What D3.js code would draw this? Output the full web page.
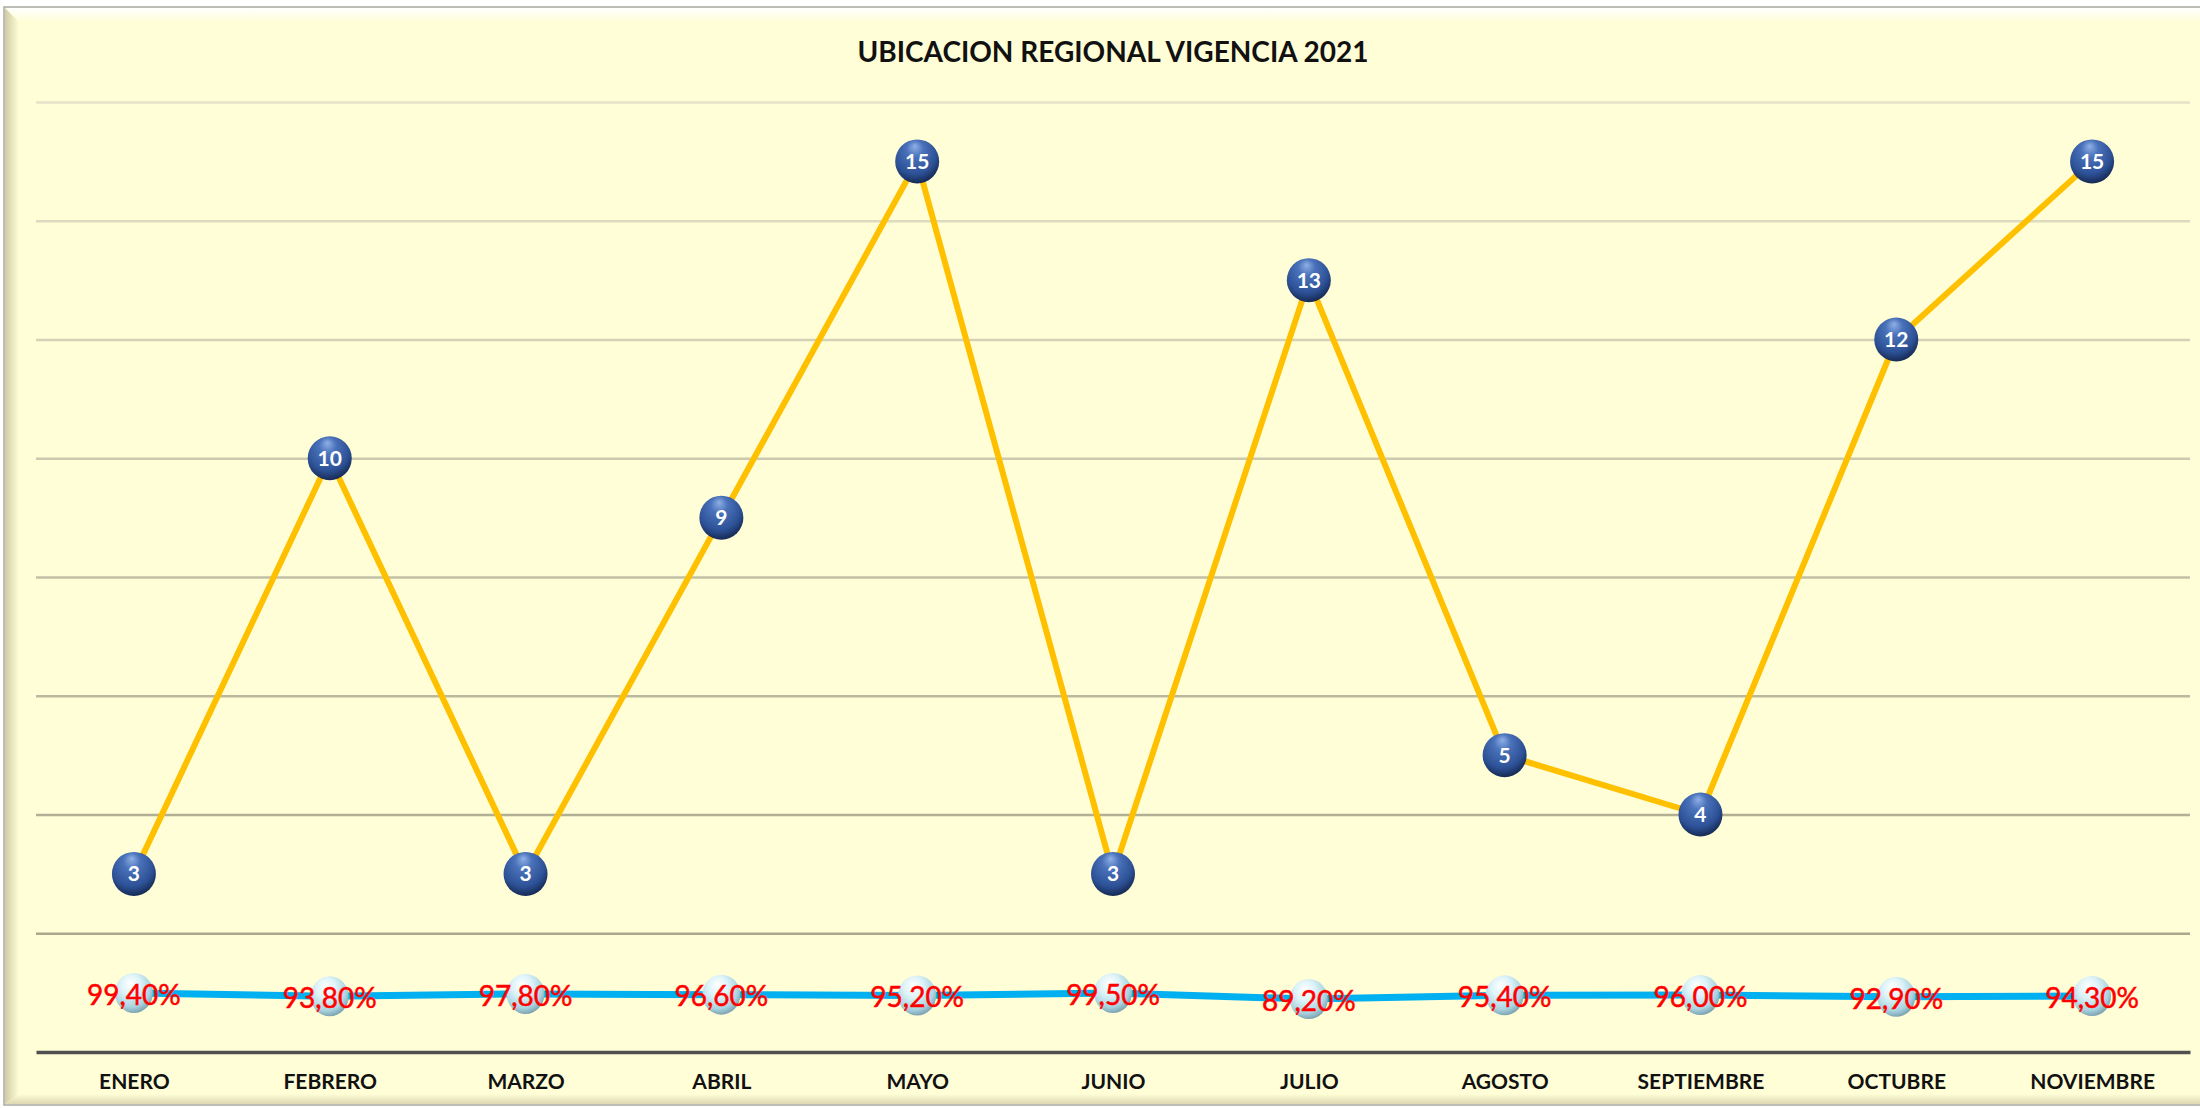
<html>
<head>
<meta http-equiv="content-type" content="text/html; charset=UTF8">
	<title>Ubicacion Regional</title>
</head>
<style type="text/css">

body { font-family: Lato, "Open Sans", sans-serif; padding: 0; margin: 0; overflow: hidden; background: #fff; }

</style>
<body>

    <div id="chart"></div>

    <script type="text/javascript" src="https://cdnjs.cloudflare.com/ajax/libs/d3/7.8.5/d3.min.js"></script>
    <script type="text/javascript">

    var meses = ["ENERO", "FEBRERO", "MARZO", "ABRIL", "MAYO", "JUNIO", "JULIO", "AGOSTO", "SEPTIEMBRE", "OCTUBRE", "NOVIEMBRE"];
    var ubicacion = [3, 10, 3, 9, 15, 3, 13, 5, 4, 12, 15];
    var cumplimiento = [0.994, 0.938, 0.978, 0.966, 0.952, 0.995, 0.892, 0.954, 0.960, 0.929, 0.943];
    var gridTicks = [2, 4, 6, 8, 10, 12, 14, 16];

    (function(){
        var width = 2200, height = 1108;
        var left = 36, right = 2190, top = 102, bottom = 1052;
        var bg = "#FFFED6";

        var svg = d3.select("#chart").append("svg")
            .attr("width", width)
            .attr("height", height);

        var defs = svg.append("defs");

        // frame bevel gradients
        var gTop = defs.append("linearGradient").attr("id", "bevTop")
            .attr("x1", 0).attr("y1", 0).attr("x2", 0).attr("y2", 1);
        gTop.append("stop").attr("offset", "0%").attr("stop-color", "#ffffff");
        gTop.append("stop").attr("offset", "100%").attr("stop-color", bg);

        var gLeft = defs.append("linearGradient").attr("id", "bevLeft")
            .attr("x1", 0).attr("y1", 0).attr("x2", 1).attr("y2", 0);
        gLeft.append("stop").attr("offset", "0%").attr("stop-color", "#CFCBA6");
        gLeft.append("stop").attr("offset", "100%").attr("stop-color", bg);

        var gBot = defs.append("linearGradient").attr("id", "bevBot")
            .attr("x1", 0).attr("y1", 0).attr("x2", 0).attr("y2", 1);
        gBot.append("stop").attr("offset", "0%").attr("stop-color", bg);
        gBot.append("stop").attr("offset", "100%").attr("stop-color", "#DDD7B2");

        // dark blue sphere
        var gBlue = defs.append("radialGradient").attr("id", "ballBlue")
            .attr("cx", "45%").attr("cy", "35%").attr("r", "65%")
            .attr("fx", "45%").attr("fy", "15%");
        gBlue.append("stop").attr("offset", "0%").attr("stop-color", "#8FB0E6");
        gBlue.append("stop").attr("offset", "30%").attr("stop-color", "#4A72BA");
        gBlue.append("stop").attr("offset", "75%").attr("stop-color", "#2D5196");
        gBlue.append("stop").attr("offset", "100%").attr("stop-color", "#162A55");

        // light cyan sphere
        var gLight = defs.append("radialGradient").attr("id", "ballLight")
            .attr("cx", "42%").attr("cy", "35%").attr("r", "65%")
            .attr("fx", "40%").attr("fy", "25%");
        gLight.append("stop").attr("offset", "0%").attr("stop-color", "#FFFFFF");
        gLight.append("stop").attr("offset", "40%").attr("stop-color", "#DDF3F8");
        gLight.append("stop").attr("offset", "80%").attr("stop-color", "#A9D4E0");
        gLight.append("stop").attr("offset", "100%").attr("stop-color", "#7FA5B3");

        /*
        * frame
        */
        svg.append("rect")
            .attr("x", 4).attr("y", 7)
            .attr("width", width).attr("height", 1098)
            .attr("fill", bg)
            .attr("stroke", "#A8A8A8")
            .attr("stroke-width", 1.5);
        svg.append("polygon")
            .attr("points", "5,8 2200,8 2200,22 19,22")
            .attr("fill", "url(#bevTop)");
        svg.append("polygon")
            .attr("points", "5,8 19,22 19,1094 5,1104")
            .attr("fill", "url(#bevLeft)");
        svg.append("polygon")
            .attr("points", "5,1104 19,1094 2200,1094 2200,1104")
            .attr("fill", "url(#bevBot)");

        var x = d3.scalePoint()
            .domain(meses)
            .range([left, right])
            .padding(0.5);

        var y = d3.scaleLinear()
            .domain([0, 16])
            .range([bottom, top]);

        var gridColor = d3.scaleLinear()
            .domain([16, 2])
            .range(["#E4E2C8", "#A9A88C"]);

        /*
        * gridlines
        */
        var grid = svg.append("g")
            .attr("transform", "translate(" + left + ",0)")
            .call(d3.axisLeft(y).tickValues(gridTicks).tickSize(-(right - left)).tickFormat(""));
        grid.select(".domain").remove();
        grid.selectAll(".tick line")
            .attr("stroke", function(d){ return gridColor(d); })
            .attr("stroke-width", 2.5);

        /*
        * x axis
        */
        var xAxis = svg.append("g")
            .attr("transform", "translate(0," + bottom + ")")
            .call(d3.axisBottom(x).tickSize(0).tickPadding(22));
        xAxis.select(".domain")
            .attr("stroke", "#505050")
            .attr("stroke-width", 3.5);
        xAxis.selectAll(".tick text")
            .attr("fill", "#111")
            .style("font", "bold 21px Lato");

        /*
        * title
        */
        svg.append("text")
            .attr("x", (left + right) / 2)
            .attr("y", 62)
            .attr("text-anchor", "middle")
            .attr("fill", "#111")
            .style("font", "bold 28px Lato")
            .text("UBICACION REGIONAL VIGENCIA 2021");

        var line = d3.line()
            .x(function(d, i){ return x(meses[i]); })
            .y(function(d){ return y(d); });

        svg.append("path")
            .datum(ubicacion)
            .attr("d", line)
            .attr("fill", "none")
            .attr("stroke", "#FFC000")
            .attr("stroke-width", 6)
            .attr("stroke-linejoin", "round");

        svg.append("path")
            .datum(cumplimiento)
            .attr("d", line)
            .attr("fill", "none")
            .attr("stroke", "#00B0F0")
            .attr("stroke-width", 7);

        /*
        * percentage markers + labels
        */
        var pct = d3.formatLocale({decimal: ",", thousands: ".", grouping: [3], currency: ["", ""]}).format(".2%");

        var pts = svg.append("g").selectAll("g")
            .data(cumplimiento)
            .enter().append("g")
            .attr("transform", function(d, i){ return "translate(" + x(meses[i]) + "," + y(d) + ")"; });
        pts.append("ellipse")
            .attr("rx", 19).attr("ry", 20)
            .attr("fill", "url(#ballLight)");
        pts.append("text")
            .attr("text-anchor", "middle")
            .attr("dy", "0.42em")
            .attr("fill", "#FF0000")
            .attr("stroke", "#FF0000")
            .attr("stroke-width", 0.5)
            .style("font", "28px Lato")
            .text(function(d){ return pct(d); });

        /*
        * ubicacion markers + labels
        */
        var balls = svg.append("g").selectAll("g")
            .data(ubicacion)
            .enter().append("g")
            .attr("transform", function(d, i){ return "translate(" + x(meses[i]) + "," + y(d) + ")"; });
        balls.append("circle")
            .attr("r", 22)
            .attr("fill", "url(#ballBlue)");
        balls.append("text")
            .attr("text-anchor", "middle")
            .attr("dy", "0.36em")
            .attr("fill", "#fff")
            .style("font", "bold 21px Lato")
            .text(function(d){ return d; });

    })();

    </script>
</body>
</html>
